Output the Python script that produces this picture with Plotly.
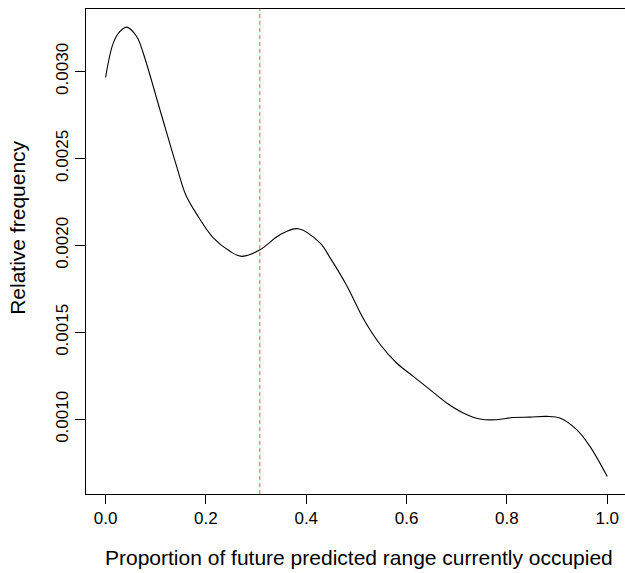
import plotly.graph_objects as go

# Density curve
x_vals = [0.0, 0.0153, 0.0287, 0.042, 0.062, 0.075, 0.1084, 0.1417, 0.1600,
          0.1816, 0.2147, 0.248, 0.2713, 0.3078, 0.3476, 0.384, 0.4273, 0.4473,
          0.4806, 0.5137, 0.547, 0.5802, 0.6133, 0.6466, 0.680, 0.713, 0.7463,
          0.7796, 0.8127, 0.846, 0.879, 0.9057, 0.939, 0.9655, 1.0]
y_vals = [0.002966, 0.003163, 0.003230, 0.003255, 0.003201, 0.003106, 0.002780,
          0.002454, 0.002290, 0.002180, 0.002043, 0.001966, 0.001937, 0.001975,
          0.002061, 0.002096, 0.002014, 0.001930, 0.001770, 0.001580, 0.001432,
          0.001324, 0.001247, 0.001171, 0.001094, 0.001037, 0.001002, 0.000998,
          0.001011, 0.001013, 0.001017, 0.001008, 0.000941, 0.000845, 0.000672]

vline_x = 0.3075

x_ticks = [0.0, 0.2, 0.4, 0.6, 0.8, 1.0]
x_ticklabels = ["0.0", "0.2", "0.4", "0.6", "0.8", "1.0"]
y_ticks = [0.0010, 0.0015, 0.0020, 0.0025, 0.0030]
y_ticklabels = ["0.0010", "0.0015", "0.0020", "0.0025", "0.0030"]

x_title = "Proportion of future predicted range currently occupied"
y_title = "Relative frequency"

FONT = "Liberation Sans, Arial, Helvetica, sans-serif"

fig = go.Figure()
fig.add_trace(go.Scatter(x=x_vals, y=y_vals, mode="lines",
                         line=dict(color="black", width=1.1, shape="spline", smoothing=1.0),
                         hoverinfo="skip", showlegend=False))

fig.add_shape(type="line", xref="x", yref="paper", x0=vline_x, x1=vline_x, y0=0, y1=1,
              line=dict(color="#EE5A50", width=1, dash="4px,3px"))

fig.add_annotation(text=x_title, xref="paper", yref="paper", x=0.507, y=-0.131,
                   xanchor="center", yanchor="middle", showarrow=False,
                   font=dict(size=21, family=FONT, color="black"))
fig.add_annotation(text=y_title, xref="paper", yref="paper", x=-0.126, y=0.549,
                   xanchor="center", yanchor="middle", showarrow=False, textangle=-90,
                   font=dict(size=21, family=FONT, color="black"))

fig.update_layout(
    width=625, height=573,
    margin=dict(l=86, r=0, t=9, b=79),
    paper_bgcolor="white", plot_bgcolor="white",
    font=dict(family=FONT, color="black", size=17),
    showlegend=False,
)
fig.update_xaxes(
    range=[-0.039, 1.0354], showgrid=False, zeroline=False, automargin=False,
    showline=True, linecolor="black", linewidth=1, mirror=True,
    ticks="outside", ticklen=9, tickwidth=1, tickcolor="black",
    tickvals=x_ticks, ticktext=x_ticklabels, tickfont=dict(size=17),
)
fig.update_yaxes(
    range=[0.000571, 0.003359], showgrid=False, zeroline=False, automargin=False,
    showline=True, linecolor="black", linewidth=1, mirror=False,
    ticks="outside", ticklen=10, tickwidth=1, tickcolor="black",
    tickvals=y_ticks, ticktext=y_ticklabels, tickangle=-90, tickfont=dict(size=17),
)

fig.write_html("out.html", config={"displayModeBar": False},
               post_script="document.body.style.margin='0';document.body.style.padding='0';")
